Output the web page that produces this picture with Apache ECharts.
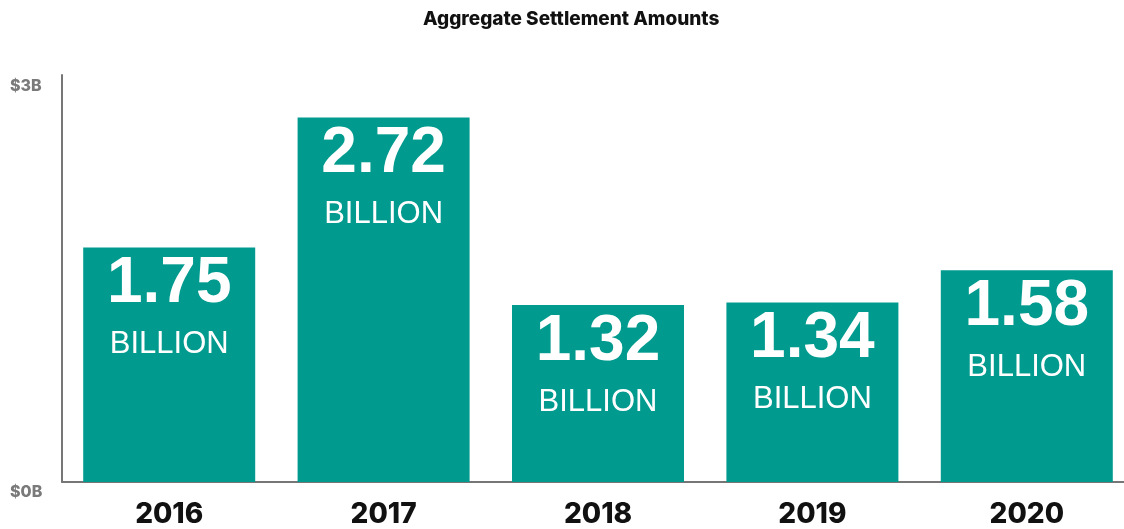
<!DOCTYPE html>
<html>
<head>
<meta charset="utf-8">
<script src="https://cdn.jsdelivr.net/npm/echarts@6/dist/echarts.min.js"></script>
<style>
html,body{margin:0;padding:0;background:#fff;}
#chart{width:1124px;height:529px;}
</style>
</head>
<body>
<div id="chart"></div>
<script>
const years = ['2016', '2017', '2018', '2019', '2020'];
const amounts = [1.75, 2.72, 1.32, 1.34, 1.58];
const yTickLabels = ['$0B', '$3B'];

const chart = echarts.init(document.getElementById('chart'), null, {renderer: 'canvas'});
chart.setOption({
  backgroundColor: '#ffffff',
  animation: false,
  title: {
    text: 'Aggregate Settlement Amounts',
    left: 418,
    top: 5,
    textStyle: {fontFamily: 'Inter', fontWeight: 800, fontSize: 19, color: '#111'}
  },
  grid: {left: 62, width: 1072, top: 75, bottom: 47, outerBoundsMode: 'none', containLabel: false},
  xAxis: {
    type: 'category',
    data: years,
    axisLine: {lineStyle: {color: '#767676', width: 2}},
    axisTick: {show: false},
    axisLabel: {
      margin: 19,
      fontFamily: 'Inter', fontWeight: 800, fontSize: 28, color: '#111'
    }
  },
  yAxis: {
    type: 'value',
    min: 0,
    max: 3.037,
    interval: 3,
    splitLine: {show: false},
    axisTick: {show: false},
    axisLine: {show: true, lineStyle: {color: '#767676', width: 2}},
    axisLabel: {
      showMaxLabel: false,
      align: 'left',
      margin: 52,
      formatter: function (v) {
        if (v === 0) return '{z|' + yTickLabels[0] + '}';
        if (v === 3) return '{t|' + yTickLabels[1] + '}';
        return '';
      },
      rich: {
        z: {fontFamily: 'Inter', fontWeight: 800, fontSize: 16, color: '#7a7a7a', padding: [20, 0, 0, 0]},
        t: {fontFamily: 'Inter', fontWeight: 800, fontSize: 16, color: '#7a7a7a', padding: [12, 0, 0, 0]}
      }
    }
  },
  series: [{
    type: 'bar',
    data: amounts,
    barWidth: 172,
    itemStyle: {color: '#009B8E'},
    label: {
      show: true,
      position: 'insideTop',
      distance: 0,
      formatter: function (p) {
        return '{n|' + p.value.toFixed(2) + '}\n{b|BILLION}';
      },
      rich: {
        n: {fontFamily: 'Liberation Sans', fontWeight: 'bold', fontSize: 64, lineHeight: 74, color: '#fff'},
        b: {fontFamily: 'Liberation Sans', fontSize: 31, lineHeight: 46, color: '#fff'}
      }
    }
  }]
});
</script>
</body>
</html>
